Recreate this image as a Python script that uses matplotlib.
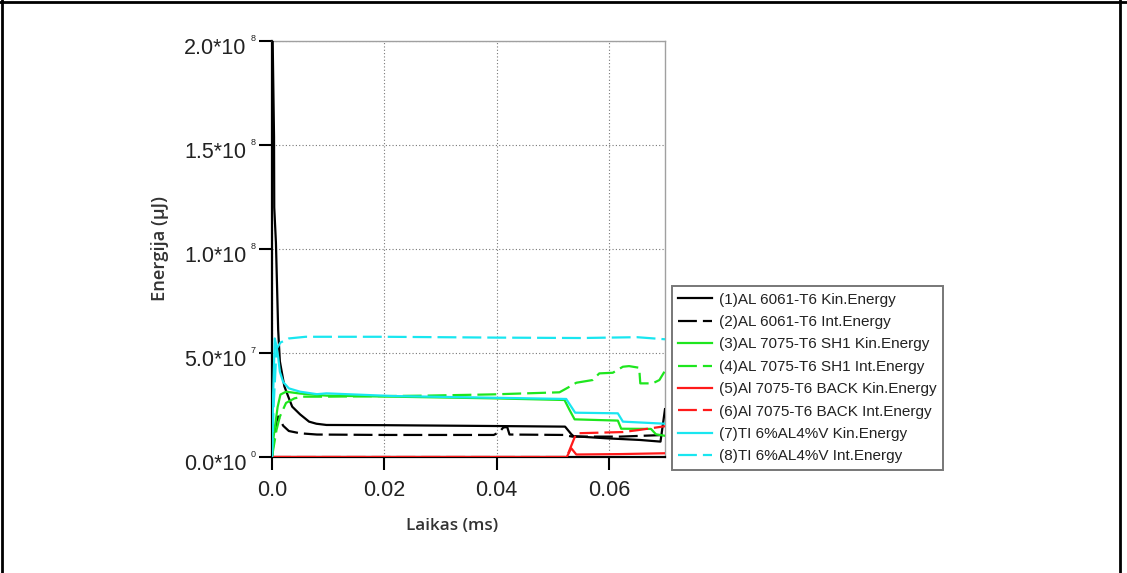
import matplotlib
matplotlib.use("Agg")
import matplotlib.pyplot as plt
from matplotlib.lines import Line2D
from matplotlib.transforms import ScaledTranslation

plt.rcParams["font.family"] = ["Liberation Sans", "DejaVu Sans"]

# Time (ms) and energy (µJ) samples for each part
t_al6061_kin = [0.0, 0.00012, 0.00036, 0.0004, 0.0007, 0.0011, 0.0014, 0.0022, 0.0029, 0.0036,
                0.0050, 0.0066, 0.0079, 0.0097, 0.020, 0.0393, 0.0522, 0.0533, 0.0537,
                0.0595, 0.0655, 0.0692, 0.0700]
e_al6061_kin = [2.0e8, 2.0e8, 1.54e8, 1.2e8, 1.03e8, 6.1e7, 4.6e7, 3.4e7, 2.9e7, 2.42e7,
                2.05e7, 1.7e7, 1.6e7, 1.54e7, 1.53e7, 1.49e7, 1.46e7, 1.1e7, 1.0e7,
                9.0e6, 8.2e6, 7.4e6, 2.3e7]

t_al6061_int = [0.0, 0.0003, 0.0008, 0.0011, 0.0020, 0.0030, 0.0050, 0.0080, 0.020, 0.0395,
                0.0405, 0.0412, 0.0419, 0.0423, 0.0520, 0.0535, 0.0620, 0.0700]
e_al6061_int = [0.0, 8.0e6, 1.7e7, 1.95e7, 1.5e7, 1.25e7, 1.14e7, 1.08e7, 1.06e7, 1.06e7,
                1.2e7, 1.42e7, 1.44e7, 1.08e7, 1.06e7, 9.8e6, 9.8e6, 1.06e7]

t_sh1_kin = [0.0, 0.0003, 0.0010, 0.0015, 0.0025, 0.0050, 0.0097, 0.0216, 0.0393, 0.0521,
             0.0530, 0.0539, 0.0616, 0.0622, 0.0675, 0.0684, 0.0700]
e_sh1_kin = [0.0, 1.0e7, 2.4e7, 3.0e7, 3.14e7, 3.05e7, 2.95e7, 2.9e7, 2.82e7, 2.74e7,
             2.26e7, 1.81e7, 1.75e7, 1.36e7, 1.35e7, 1.09e7, 1.02e7]

t_sh1_int = [0.0, 0.0008, 0.0014, 0.0025, 0.0040, 0.0055, 0.0097, 0.0274, 0.0393, 0.0512,
             0.0530, 0.0542, 0.0571, 0.0583, 0.0607, 0.0625, 0.0636, 0.0654, 0.0656,
             0.0678, 0.0690, 0.0699]
e_sh1_int = [0.0, 1.3e7, 1.94e7, 2.6e7, 2.82e7, 2.9e7, 2.9e7, 2.95e7, 3.01e7, 3.11e7,
             3.38e7, 3.57e7, 3.7e7, 4.02e7, 4.05e7, 4.34e7, 4.37e7, 4.29e7, 3.54e7,
             3.54e7, 3.7e7, 4.1e7]

t_back_kin = [0.0, 0.0525, 0.0533, 0.0542, 0.0620, 0.0700]
e_back_kin = [0.0, 0.0, 4.2e6, 1.2e6, 1.4e6, 1.8e6]

t_back_int = [0.0, 0.0525, 0.0536, 0.0542, 0.0625, 0.0654, 0.0695, 0.0700]
e_back_int = [0.0, 0.0, 7.4e6, 1.14e7, 1.2e7, 1.3e7, 1.46e7, 1.48e7]

t_ti_kin = [0.0, 0.0002, 0.0005, 0.0008, 0.0011, 0.0014, 0.0020, 0.0030, 0.0050, 0.0080,
            0.0097, 0.0216, 0.0393, 0.0524, 0.0540, 0.0616, 0.0625, 0.0700]
e_ti_kin = [0.0, 3.0e7, 5.7e7, 5.3e7, 4.8e7, 4.1e7, 3.6e7, 3.3e7, 3.14e7, 3.02e7,
            3.06e7, 2.93e7, 2.85e7, 2.79e7, 2.13e7, 2.1e7, 1.7e7, 1.6e7]

t_ti_int = [0.0, 0.0003, 0.0008, 0.0015, 0.0030, 0.0060, 0.020, 0.040, 0.055, 0.065, 0.0700]
e_ti_int = [0.0, 2.5e7, 5.2e7, 5.5e7, 5.7e7, 5.78e7, 5.78e7, 5.74e7, 5.72e7, 5.76e7, 5.66e7]

labels = [
    "(1)AL 6061-T6 Kin.Energy",
    "(2)AL 6061-T6 Int.Energy",
    "(3)AL 7075-T6 SH1 Kin.Energy",
    "(4)AL 7075-T6 SH1 Int.Energy",
    "(5)Al 7075-T6 BACK Kin.Energy",
    "(6)Al 7075-T6 BACK Int.Energy",
    "(7)TI 6%AL4%V Kin.Energy",
    "(8)TI 6%AL4%V Int.Energy",
]

x_ticks = [0.0, 0.02, 0.04, 0.06]
x_tick_labels = ["0.0", "0.02", "0.04", "0.06"]
y_ticks = [0.0, 5.0e7, 1.0e8, 1.5e8, 2.0e8]
y_tick_mantissas = ["0.0*10", "5.0*10", "1.0*10", "1.5*10", "2.0*10"]
y_tick_exponents = ["0", "7", "8", "8", "8"]

series = [
    (t_al6061_kin, e_al6061_kin, "black", "-"),
    (t_al6061_int, e_al6061_int, "black", "--"),
    (t_sh1_kin, e_sh1_kin, "#1ee61e", "-"),
    (t_sh1_int, e_sh1_int, "#1ee61e", "--"),
    (t_back_kin, e_back_kin, "#ff1a1a", "-"),
    (t_back_int, e_back_int, "#ff1a1a", "--"),
    (t_ti_kin, e_ti_kin, "#19e6f0", "-"),
    (t_ti_int, e_ti_int, "#19e6f0", "--"),
]

W, H = 1127, 573
fig = plt.figure(figsize=(W / 100, H / 100), dpi=100)
ax = fig.add_axes([272 / W, 1 - 457 / H, (665 - 272) / W, (457 - 41) / H])

dash = (0, (8.5, 2.7))
for (t, e, c, ls), lab in zip(series, labels):
    ax.plot(t, e, color=c, lw=1.6, linestyle=dash if ls == "--" else "-", label=lab, zorder=3)

ax.set_xlim(0, 0.07)
ax.set_ylim(0, 2.0e8)
ax.set_xticks(x_ticks)
ax.set_xticklabels(x_tick_labels)
ax.set_yticks(y_ticks)
ax.set_yticklabels(y_tick_mantissas)
ax.tick_params(axis="both", direction="out", length=9.4, width=1.5, labelsize=15.5,
               color="black", labelcolor="#222222")
ax.tick_params(axis="y", pad=9.0)
ax.tick_params(axis="x", pad=7.0)
ax.grid(True, color="#777777", linestyle=(0, (1, 2)), lw=0.8)

# Shift y tick labels slightly below their ticks and add small raised exponents
shift = ScaledTranslation(0, -3.5 / 72, fig.dpi_scale_trans)
for lbl in ax.get_yticklabels():
    lbl.set_transform(lbl.get_transform() + shift)
for yv, ex in zip(y_ticks, y_tick_exponents):
    ax.annotate(ex, xy=(0, yv), xycoords=ax.get_yaxis_transform(),
                xytext=(-15.5, 1.5), textcoords="offset points",
                ha="left", va="center", fontsize=6.5, color="#222222",
                annotation_clip=False)

for side in ("left", "bottom"):
    ax.spines[side].set_color("black")
    ax.spines[side].set_linewidth(1.6)
for side in ("top", "right"):
    ax.spines[side].set_color("#a0a0a0")
    ax.spines[side].set_linewidth(1.0)

ax.set_xlabel("Laikas (ms)", family=["Open Sans", "DejaVu Sans"], fontweight="semibold",
              fontsize=12.3, color="#333333")
ax.xaxis.set_label_coords(0.458, -0.166)
ax.xaxis.label.set_va("center")
ax.set_ylabel("Energija (µJ)", family=["Open Sans", "DejaVu Sans"], fontweight="semibold",
              fontsize=13.2, color="#333333")
ax.yaxis.set_label_coords(-0.285, 0.502)
ax.yaxis.label.set_va("center")

leg = ax.legend(loc="lower left", bbox_to_anchor=(1.018, -0.031), borderaxespad=0,
                fontsize=11.0, frameon=True, fancybox=False, handlelength=2.2,
                labelspacing=0.55, borderpad=0.42, handletextpad=0.45)
leg.get_frame().set_edgecolor("#555555")
leg.get_frame().set_linewidth(1.4)
for txt in leg.get_texts():
    txt.set_color("#222222")

# Page border lines around the figure
for xs, ys in (([2 / W, 2 / W], [0, 1]), ([0, 1], [1 - 2 / H, 1 - 2 / H]),
               ([1120 / W, 1120 / W], [0, 1])):
    fig.add_artist(Line2D(xs, ys, color="black", lw=2.0, transform=fig.transFigure))

fig.savefig("out.png", dpi=100)
